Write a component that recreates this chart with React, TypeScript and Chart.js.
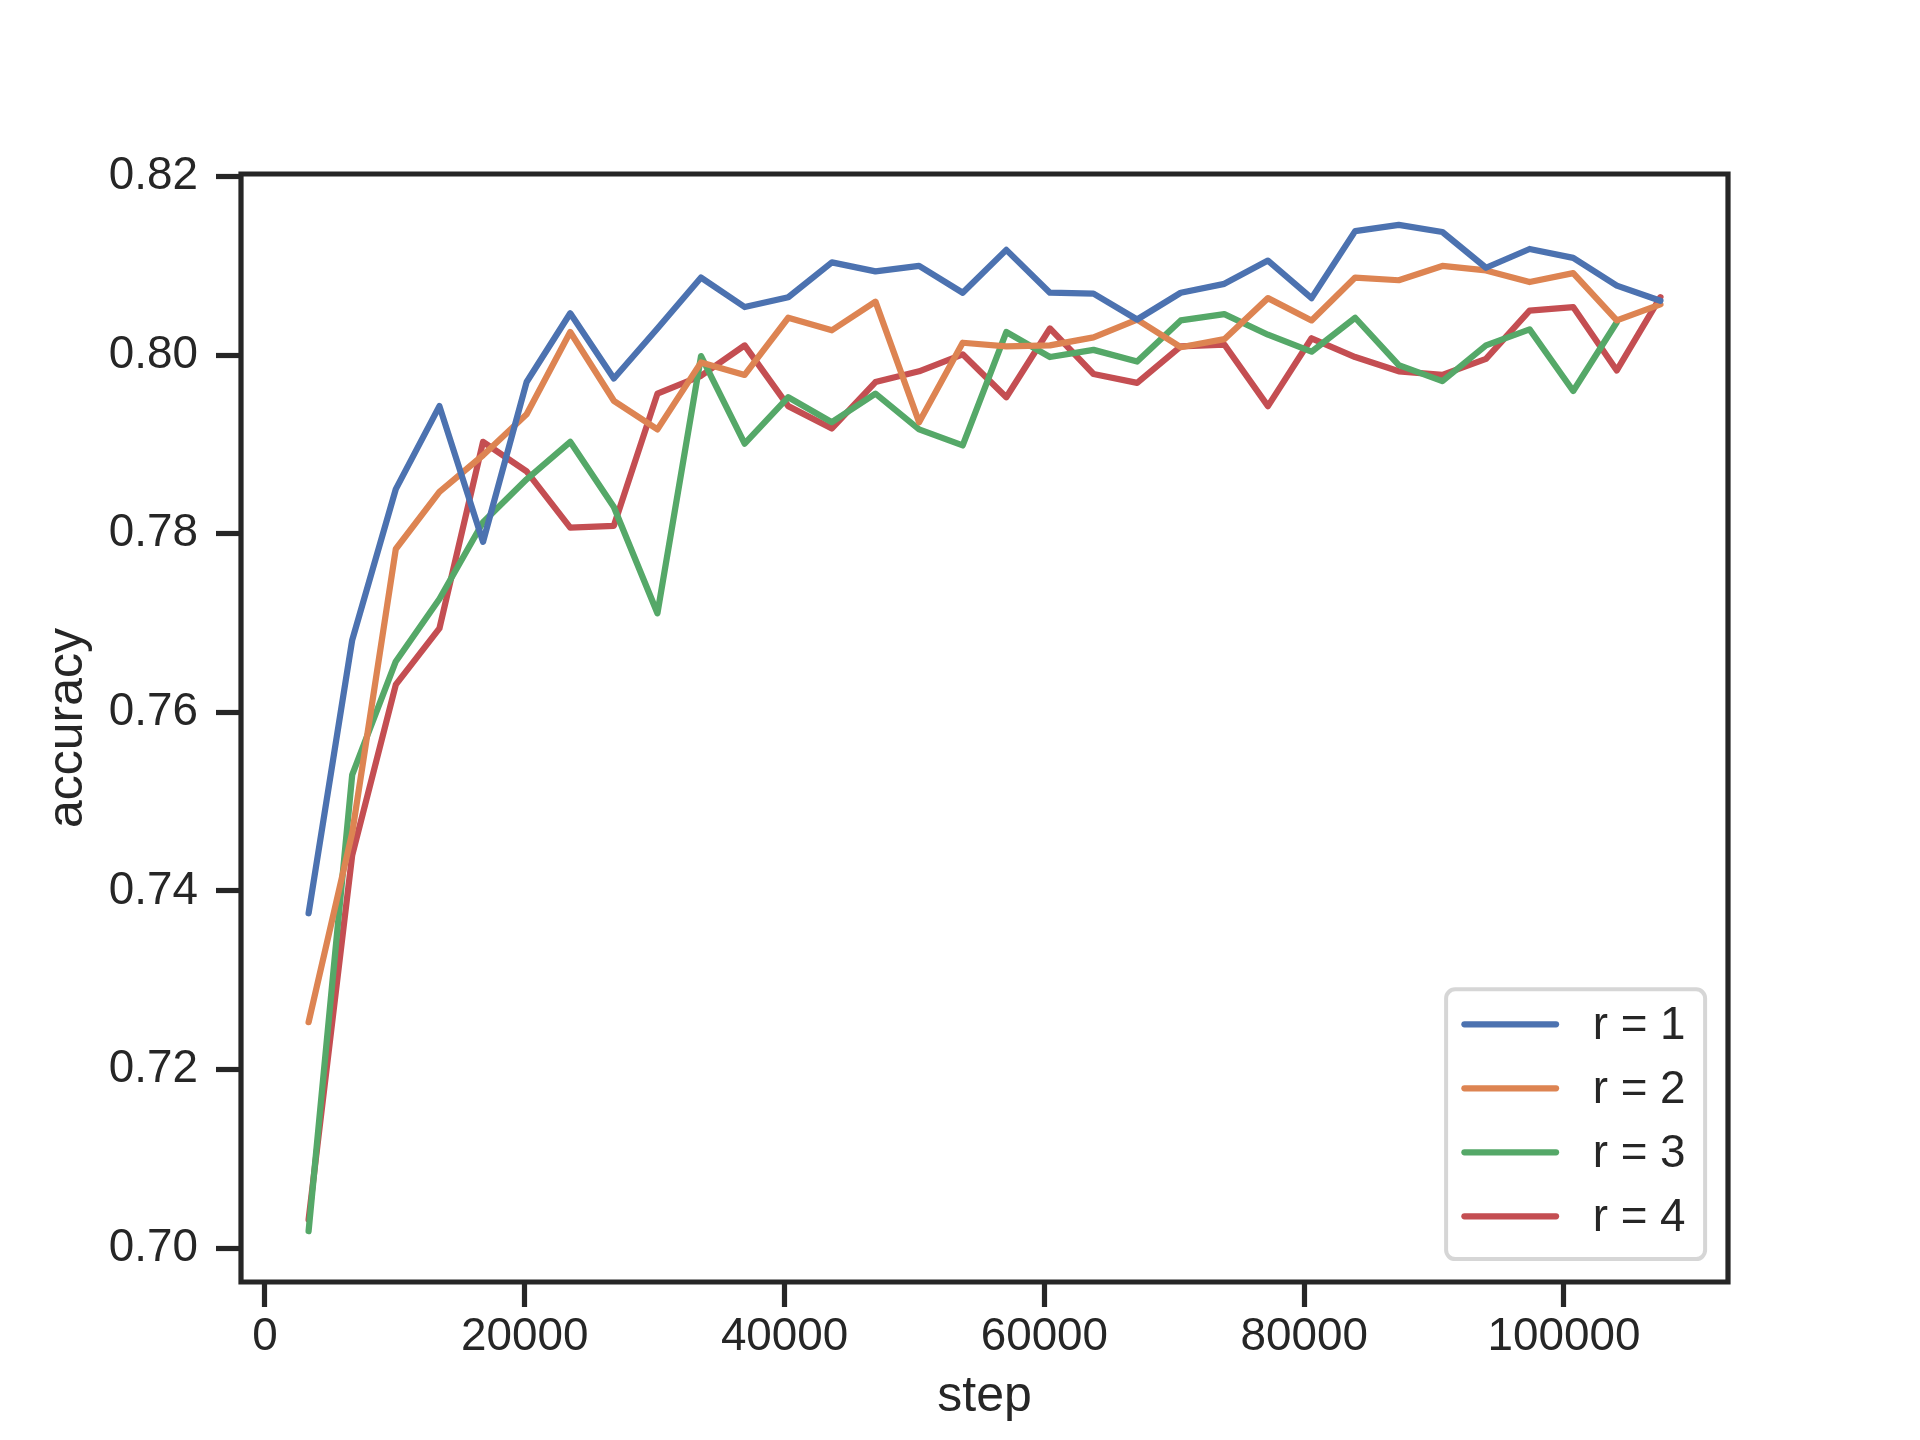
import React, { useEffect, useRef } from "react";
import { Chart, registerables } from "chart.js";

Chart.register(...registerables);

const steps = [
  3357, 6714, 10071, 13428, 16785, 20142, 23499, 26856, 30213, 33570, 36927,
  40284, 43641, 46998, 50355, 53712, 57069, 60426, 63783, 67140, 70497, 73854,
  77211, 80568, 83925, 87282, 90639, 93996, 97353, 100710, 104067, 107424,
];

const r1 = [
  0.7375, 0.7681, 0.785, 0.7943, 0.7791, 0.797, 0.8047, 0.7974, 0.803, 0.8087,
  0.8054, 0.8065, 0.8104, 0.8094, 0.81, 0.807, 0.8118, 0.807, 0.8069, 0.804,
  0.807, 0.808, 0.8106, 0.8064, 0.8139, 0.8146, 0.8138, 0.8098, 0.8119, 0.8109,
  0.8078, 0.8061,
];
const r2 = [
  0.7253, 0.7465, 0.7783, 0.7847, 0.7888, 0.7934, 0.8026, 0.7949, 0.7917,
  0.7992, 0.7978, 0.8042, 0.8028, 0.806, 0.7925, 0.8014, 0.801, 0.8011, 0.802,
  0.804, 0.8009, 0.8018, 0.8064, 0.8039, 0.8087, 0.8084, 0.81, 0.8095, 0.8082,
  0.8092, 0.8039, 0.8057,
];
const r3 = [
  0.7019, 0.753, 0.7657, 0.7727, 0.7813, 0.7861, 0.7903, 0.783, 0.7711, 0.7999,
  0.7901, 0.7953, 0.7925, 0.7957, 0.7917, 0.7899, 0.8026, 0.7998, 0.8006,
  0.7993, 0.8039, 0.8046, 0.8023, 0.8004, 0.8042, 0.7989, 0.7971, 0.8011,
  0.8029, 0.796, 0.8037, null,
];
const r4 = [
  0.7032, 0.744, 0.7631, 0.7694, 0.7903, 0.787, 0.7807, 0.7809, 0.7957, 0.7977,
  0.8011, 0.7943, 0.7918, 0.797, 0.7982, 0.8001, 0.7953, 0.803, 0.7979, 0.7969,
  0.801, 0.8012, 0.7943, 0.8019, 0.7998, 0.7982, 0.7978, 0.7996, 0.805, 0.8054,
  0.7983, 0.8065,
];

const seriesLabels = ["r = 1", "r = 2", "r = 3", "r = 4"];
const seriesValues = [r1, r2, r3, r4];
const seriesColors = ["#4C72B0", "#DD8452", "#55A868", "#C44E52"];

const xTickValues = [0, 20000, 40000, 60000, 80000, 100000];
const yTickValues = [0.7, 0.72, 0.74, 0.76, 0.78, 0.8, 0.82];

const xLabel = "step";
const yLabel = "accuracy";

const FONT = "'Liberation Sans', Arial, sans-serif";
const INK = "#262626";
const TICK_FS = 45.8;
const LABEL_FS = 50;
const LINE_W = 6.25;
const SPINE_W = 5.2;

const framePlugin = {
  id: "frame",
  afterDatasetsDraw(chart: any) {
    const { ctx, chartArea } = chart;
    const { left, right, top, bottom } = chartArea;
    ctx.save();
    ctx.strokeStyle = INK;
    ctx.lineWidth = SPINE_W;
    ctx.lineCap = "square";
    ctx.beginPath();
    ctx.rect(left, top, right - left, bottom - top);
    ctx.stroke();
    ctx.restore();
  },
  afterDraw(chart: any) {
    const { ctx, chartArea } = chart;
    const fs = TICK_FS;
    const pad = 0.4 * fs;
    const handleLen = 2 * fs;
    const handlePad = 0.8 * fs;
    const rowH = 64;
    const boxW = 259;
    const n = chart.data.datasets.length;
    const boxH = pad * 2 + rowH * n - 0.5 * fs;
    const boxRight = chartArea.right - 0.5 * fs;
    const boxBottom = chartArea.bottom - 0.5 * fs;
    const bx = boxRight - boxW;
    const by = boxBottom - boxH;
    ctx.save();
    const r = 9;
    ctx.beginPath();
    ctx.moveTo(bx + r, by);
    ctx.lineTo(bx + boxW - r, by);
    ctx.arcTo(bx + boxW, by, bx + boxW, by + r, r);
    ctx.lineTo(bx + boxW, by + boxH - r);
    ctx.arcTo(bx + boxW, by + boxH, bx + boxW - r, by + boxH, r);
    ctx.lineTo(bx + r, by + boxH);
    ctx.arcTo(bx, by + boxH, bx, by + boxH - r, r);
    ctx.lineTo(bx, by + r);
    ctx.arcTo(bx, by, bx + r, by, r);
    ctx.closePath();
    ctx.fillStyle = "rgba(255,255,255,0.8)";
    ctx.fill();
    ctx.strokeStyle = "rgba(204,204,204,0.8)";
    ctx.lineWidth = 4;
    ctx.stroke();

    ctx.font = `${fs}px ${FONT}`;
    ctx.textBaseline = "middle";
    ctx.textAlign = "left";
    chart.data.datasets.forEach((ds: any, i: number) => {
      const y = by + 35 + i * rowH;
      const x0 = bx + pad;
      ctx.strokeStyle = ds.borderColor;
      ctx.lineWidth = LINE_W;
      ctx.lineCap = "round";
      ctx.beginPath();
      ctx.moveTo(x0, y);
      ctx.lineTo(x0 + handleLen, y);
      ctx.stroke();
      ctx.fillStyle = INK;
      ctx.fillText(ds.label, x0 + handleLen + handlePad, y + 2);
    });
    ctx.restore();
  },
};

export default function App() {
  const ref = useRef<HTMLCanvasElement | null>(null);
  useEffect(() => {
    if (!ref.current) return;
    const datasets = seriesValues.map((vals, i) => ({
      label: seriesLabels[i],
      data: steps.map((s, j) => ({ x: s, y: vals[j] })),
      borderColor: seriesColors[i],
      backgroundColor: seriesColors[i],
      borderWidth: LINE_W,
      borderCapStyle: "round",
      borderJoinStyle: "round",
      pointRadius: 0,
      tension: 0,
      fill: false,
      spanGaps: false,
    }));
    const chart = new Chart(ref.current, {
      type: "line",
      data: { datasets } as any,
      options: {
        animation: false,
        responsive: false,
        devicePixelRatio: 1,
        layout: { padding: { top: 174, right: 192, left: 0, bottom: 0 } },
        plugins: { legend: { display: false }, tooltip: { enabled: false } },
        scales: {
          x: {
            type: "linear",
            min: -1846,
            max: 112627,
            afterBuildTicks: (scale: any) => {
              scale.ticks = xTickValues.map((v) => ({ value: v }));
            },
            afterFit: (scale: any) => {
              scale.height = 158;
            },
            border: { display: false },
            grid: {
              drawOnChartArea: false,
              drawTicks: true,
              tickLength: 25,
              tickWidth: SPINE_W,
              tickColor: INK,
            },
            ticks: {
              padding: 3,
              color: INK,
              maxRotation: 0,
              autoSkip: false,
              font: { family: FONT, size: TICK_FS, lineHeight: 1.2 },
              callback: (v: any) => String(v),
            },
            title: {
              display: true,
              text: xLabel,
              color: INK,
              font: { family: FONT, size: LABEL_FS, lineHeight: 1.2 },
              padding: { top: 0, bottom: 13 },
            },
          },
          y: {
            type: "linear",
            min: 0.6962,
            max: 0.8203,
            afterBuildTicks: (scale: any) => {
              scale.ticks = yTickValues.map((v) => ({ value: v }));
            },
            afterFit: (scale: any) => {
              scale.width = 241;
            },
            border: { display: false },
            grid: {
              drawOnChartArea: false,
              drawTicks: true,
              tickLength: 25,
              tickWidth: SPINE_W,
              tickColor: INK,
            },
            ticks: {
              padding: 18,
              color: INK,
              autoSkip: false,
              font: { family: FONT, size: TICK_FS, lineHeight: 1.2 },
              callback: (v: any) => Number(v).toFixed(2),
            },
            title: {
              display: true,
              text: yLabel,
              color: INK,
              font: { family: FONT, size: LABEL_FS, lineHeight: 1.2 },
              padding: { top: 38, bottom: 0 },
            },
          },
        },
      } as any,
      plugins: [framePlugin],
    });
    return () => chart.destroy();
  }, []);
  return (
    <div style={{ position: "absolute", left: 0, top: 0, width: 1920, height: 1440, background: "#fff" }}>
      <canvas ref={ref} width={1920} height={1440} style={{ display: "block" }} />
    </div>
  );
}
